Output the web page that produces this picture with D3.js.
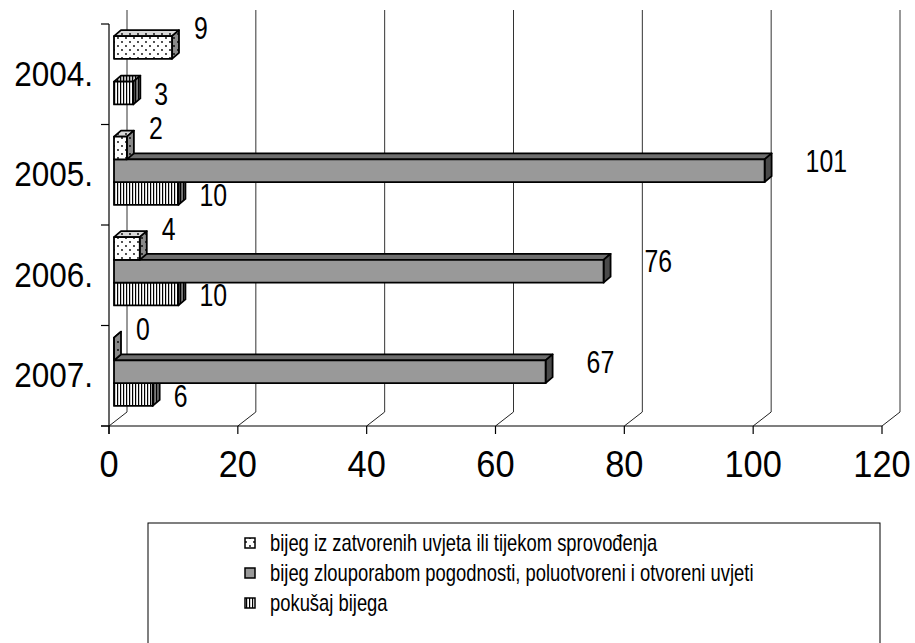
<!DOCTYPE html>
<html>
<head>
<meta charset="utf-8">
<script src="https://cdn.jsdelivr.net/npm/d3@7"></script>
<style>
html,body{margin:0;padding:0;background:#fff;}
svg{display:block;font-family:"Liberation Sans",Arial,sans-serif;}
</style>
</head>
<body>
<svg id="chart" width="915" height="643"></svg>
<script>
// ---- data ----
const categories = ["2004.", "2005.", "2006.", "2007."];
const seriesNames = [
  "bijeg iz zatvorenih uvjeta ili tijekom sprovođenja",
  "bijeg zlouporabom pogodnosti, poluotvoreni i otvoreni uvjeti",
  "pokušaj bijega"
];
const seriesA = [9, 2, 4, 0];        // bijeg iz zatvorenih uvjeta
const seriesB = [null, 101, 76, 67]; // bijeg zlouporabom pogodnosti
const seriesC = [3, 10, 10, 6];      // pokušaj bijega
const xTicks = [0, 20, 40, 60, 80, 100, 120];

// ---- layout ----
const svg = d3.select("#chart");
const plot = {left: 109, right: 882, top: 24, bottom: 426};
const depth = {dx: 18, dy: -14};     // back wall offset
const barOff = {dx: 5, dy: -4};      // bar front face offset
const barDepth = {dx: 7, dy: -6};    // bar thickness

const x = d3.scaleLinear().domain([0, 120]).range([plot.left, plot.right]);
const y = d3.scaleBand().domain(categories).range([plot.top, plot.bottom]).padding(0);
const keys = [0, 1, 2];
const ySub = d3.scaleBand().domain(keys).range([0, y.bandwidth()]).paddingInner(0).paddingOuter(0.706);

const series = [seriesA, seriesB, seriesC];

// ---- patterns ----
const defs = svg.append("defs");
function dotPattern(id, bg) {
  const p = defs.append("pattern").attr("id", id).attr("patternUnits", "userSpaceOnUse")
    .attr("width", 8).attr("height", 8);
  p.append("rect").attr("width", 8).attr("height", 8).attr("fill", bg);
  p.append("circle").attr("cx", 2).attr("cy", 2).attr("r", 0.9).attr("fill", "#000");
  p.append("circle").attr("cx", 6).attr("cy", 6).attr("r", 0.9).attr("fill", "#000");
}
function stripePattern(id, bg) {
  const p = defs.append("pattern").attr("id", id).attr("patternUnits", "userSpaceOnUse")
    .attr("width", 3).attr("height", 3);
  p.append("rect").attr("width", 3).attr("height", 3).attr("fill", bg);
  p.append("rect").attr("x", 0).attr("width", 1.2).attr("height", 3).attr("fill", "#000");
}
dotPattern("dotFront", "#ffffff");
dotPattern("dotTop", "#d8d8d8");
dotPattern("dotSide", "#8a8a8a");
stripePattern("strFront", "#ffffff");
stripePattern("strTop", "#c8c8c8");
stripePattern("strSide", "#7a7a7a");

const fills = [
  {front: "url(#dotFront)", top: "url(#dotTop)", side: "url(#dotSide)"},
  {front: "#999999", top: "#6e6e6e", side: "#4a4a4a"},
  {front: "url(#strFront)", top: "url(#strTop)", side: "url(#strSide)"}
];

// ---- gridlines (back wall) ----
const grid = svg.append("g");
xTicks.forEach(t => {
  const xf = x(t), xb = x(t) + depth.dx;
  grid.append("line").attr("x1", xb).attr("x2", xb)
    .attr("y1", plot.top + depth.dy).attr("y2", plot.bottom + depth.dy)
    .attr("stroke", "#333").attr("stroke-width", 1);
  grid.append("line").attr("x1", xb).attr("y1", plot.bottom + depth.dy)
    .attr("x2", xf).attr("y2", plot.bottom)
    .attr("stroke", "#222").attr("stroke-width", 1);
});

// ---- front axes ----
const axes = svg.append("g").attr("stroke", "#000").attr("stroke-width", 1.2);
axes.append("line").attr("x1", plot.left).attr("x2", plot.left).attr("y1", plot.top).attr("y2", plot.bottom + 8);
axes.append("line").attr("x1", plot.left - 8).attr("x2", plot.right).attr("y1", plot.bottom).attr("y2", plot.bottom);
xTicks.forEach(t => {
  axes.append("line").attr("x1", x(t)).attr("x2", x(t)).attr("y1", plot.bottom).attr("y2", plot.bottom + 8);
});
const catEdges = categories.map(c => y(c)).concat([plot.bottom]);
catEdges.forEach(v => {
  axes.append("line").attr("x1", plot.left - 8).attr("x2", plot.left).attr("y1", v).attr("y2", v);
});

// ---- text helper ----
function txt(g, tx, ty, s, fs, sx, anchor) {
  return g.append("text")
    .attr("transform", `translate(${tx},${ty}) scale(${sx},1)`)
    .attr("text-anchor", anchor || "start")
    .attr("font-size", fs)
    .attr("fill", "#000")
    .text(s);
}

const labels = svg.append("g");
xTicks.forEach(t => txt(labels, x(t), 476.5, String(t), 37, 0.93, "middle"));
categories.forEach(c => {
  const cy = y(c) + y.bandwidth() / 2 - 1;
  txt(labels, 93, cy + 0.358 * 35, c, 35, 0.9, "end");
});

// ---- bars (bottom series first so upper ones cover top faces) ----
const bars = svg.append("g");
categories.forEach((c, ci) => {
  for (let k = 2; k >= 0; k--) {
    const v = series[k][ci];
    if (v === null || v === undefined) continue;
    const x0 = x(0) + barOff.dx, x1 = x(v) + barOff.dx;
    const y0 = y(c) + ySub(k) + barOff.dy, h = ySub.bandwidth(), y1 = y0 + h;
    const g = bars.append("g").attr("stroke", "#000").attr("stroke-width", 1.8).attr("stroke-linejoin", "round");
    g.append("polygon").attr("points", [
      [x0, y0], [x1, y0], [x1 + barDepth.dx, y0 + barDepth.dy], [x0 + barDepth.dx, y0 + barDepth.dy]
    ].map(p => p.join(",")).join(" ")).attr("fill", fills[k].top);
    g.append("polygon").attr("points", [
      [x1, y0], [x1 + barDepth.dx, y0 + barDepth.dy], [x1 + barDepth.dx, y1 + barDepth.dy], [x1, y1]
    ].map(p => p.join(",")).join(" ")).attr("fill", fills[k].side);
    if (v > 0) {
      g.append("rect").attr("x", x0).attr("y", y0).attr("width", x1 - x0).attr("height", h)
        .attr("fill", fills[k].front);
    } else {
      g.append("line").attr("x1", x0).attr("x2", x0).attr("y1", y0).attr("y2", y1);
    }
  }
});

// ---- value labels ----
const labOff = [{dx: 22, dy: -20}, {dx: 41, dy: -10}, {dx: 21, dy: 1}];
const vlab = svg.append("g");
categories.forEach((c, ci) => {
  series.forEach((s, k) => {
    const v = s[ci];
    if (v === null || v === undefined) return;
    const cy = y(c) + ySub(k) + barOff.dy + ySub.bandwidth() / 2 + labOff[k].dy;
    txt(vlab, x(v) + barOff.dx + labOff[k].dx, cy + 0.358 * 31, String(v), 31, 0.8, "start");
  });
});

// ---- legend ----
const leg = svg.append("g");
leg.append("rect").attr("x", 148).attr("y", 523).attr("width", 732).attr("height", 140)
  .attr("fill", "none").attr("stroke", "#000").attr("stroke-width", 1);
const legFill = ["url(#dotFront)", "#999999", "url(#strFront)"];
seriesNames.forEach((n, i) => {
  const cy = 543 + i * 30;
  leg.append("rect").attr("x", 245).attr("y", cy - 5).attr("width", 10).attr("height", 10)
    .attr("fill", legFill[i]).attr("stroke", "#000").attr("stroke-width", 1.5);
  txt(leg, 270, cy + 8, n, 23, 0.8, "start");
});
</script>
</body>
</html>
